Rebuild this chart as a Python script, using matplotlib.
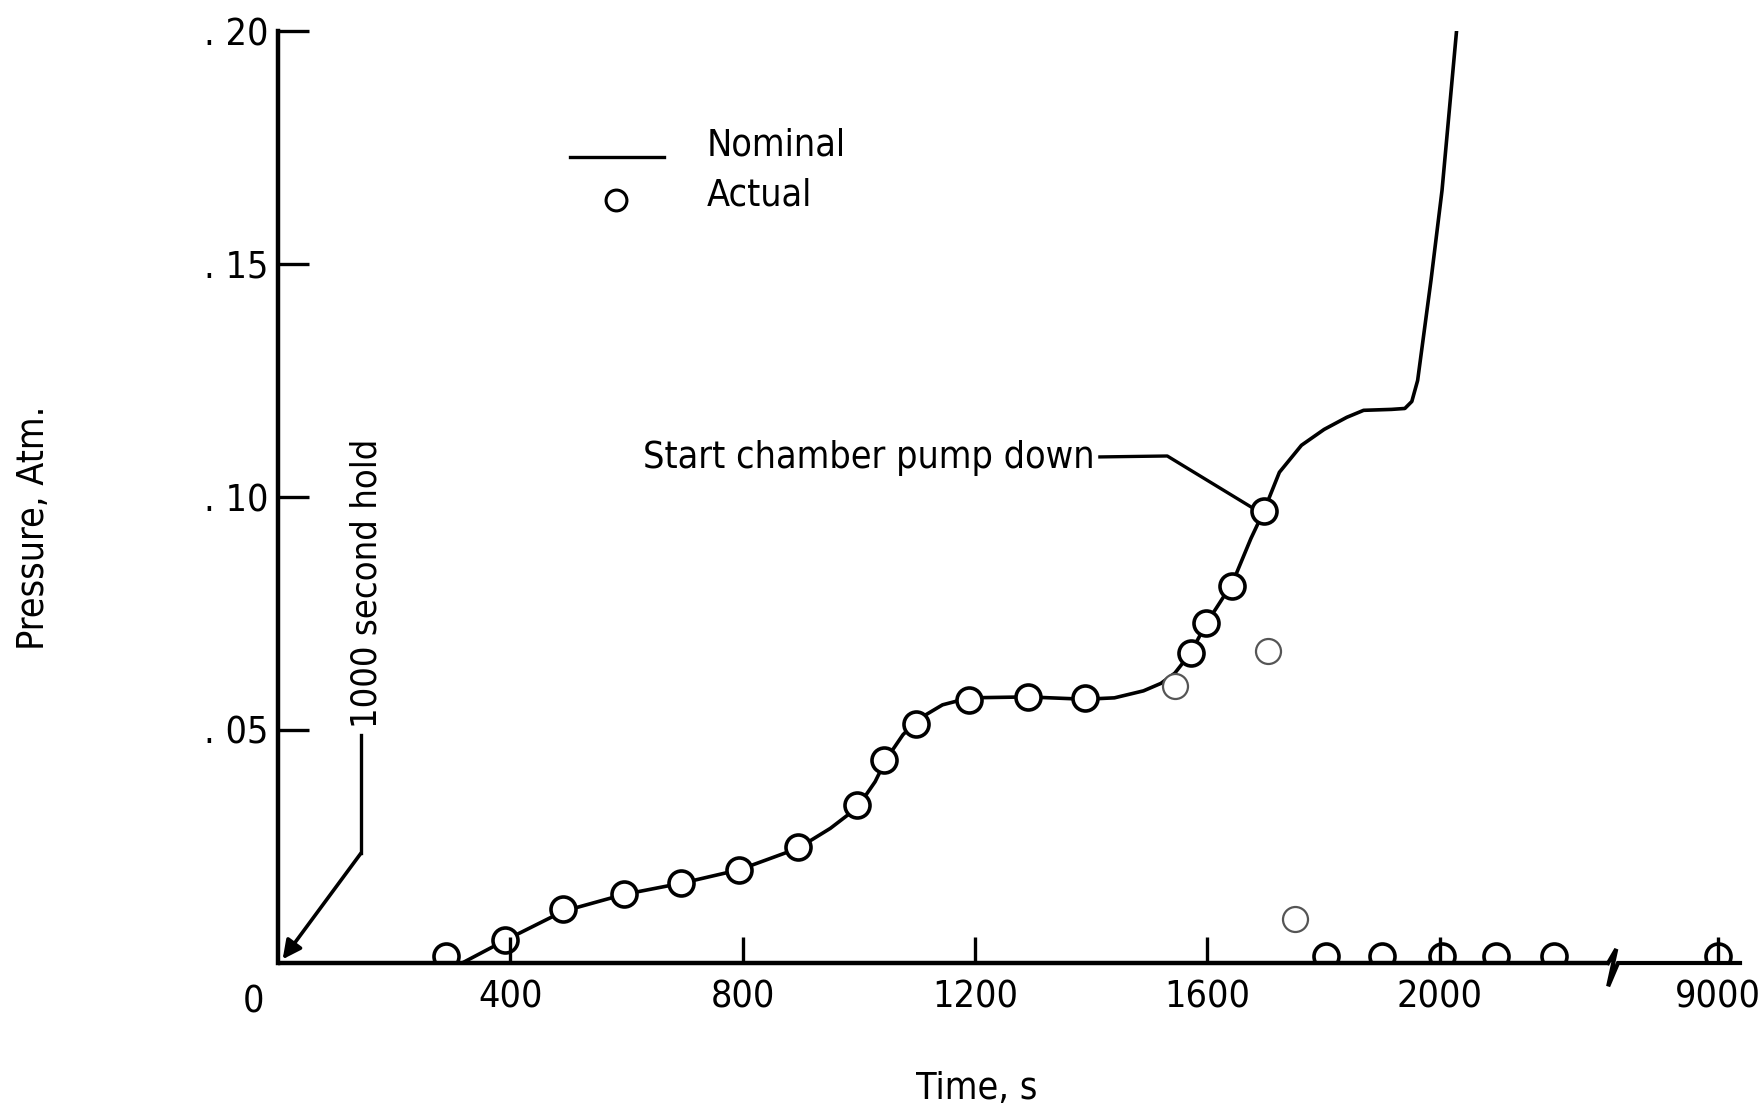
import numpy as np
import matplotlib
matplotlib.use("Agg")
import matplotlib.pyplot as plt
from matplotlib.lines import Line2D

plt.rcParams['font.family'] = ['DejaVu Sans']
plt.rcParams['font.stretch'] = 'condensed'

# ---- data ----
nominal_t = [317, 390, 491, 595, 694, 794, 895, 951, 997, 1028, 1047, 1076, 1105,
             1144, 1190, 1291, 1389, 1440, 1490, 1520, 1544, 1571, 1598, 1643, 1675,
             1697, 1724, 1762, 1801, 1840, 1869, 1917, 1940, 1952, 1962, 1985, 2004,
             2029]
nominal_p = [0.0, 0.0048, 0.0111, 0.0147, 0.0171, 0.0200, 0.0246, 0.0289, 0.0333,
             0.0389, 0.0437, 0.0490, 0.0525, 0.0554, 0.0569, 0.0571, 0.0566, 0.0569,
             0.0584, 0.0600, 0.0622, 0.0665, 0.0728, 0.0815, 0.0911, 0.0969, 0.1053,
             0.1111, 0.1145, 0.1171, 0.1186, 0.1188, 0.1190, 0.1205, 0.1250, 0.1465,
             0.1658, 0.2000]

actual_t = [290, 390, 491, 595, 694, 794, 895, 997, 1043, 1098, 1190, 1291, 1389,
            1571, 1598, 1643, 1697, 1805, 1901, 2004, 2097, 2197, 9000]
actual_p = [0.0015, 0.0050, 0.0116, 0.0149, 0.0171, 0.0200, 0.0250, 0.0340, 0.0436,
            0.0513, 0.0564, 0.0571, 0.0569, 0.0665, 0.0730, 0.0810, 0.0969,
            0.0015, 0.0015, 0.0015, 0.0015, 0.0015, 0.0015]
# faint / partially drawn points
faint_t = [1544, 1704, 1751]
faint_p = [0.0595, 0.0670, 0.0094]

xtick_vals = [400, 800, 1200, 1600, 2000, 9000]
xtick_labels = ['400', '800', '1200', '1600', '2000', '9000']
ytick_vals = [0.05, 0.10, 0.15, 0.20]
ytick_labels = ['. 05', '. 10', '. 15', '. 20']

# broken axis: 9000 s drawn just past the break
X9000_POS = 2479
BREAK_POS = 2302


def xmap(t):
    t = np.asarray(t, dtype=float)
    return np.where(t > 2400, X9000_POS, t)


fig = plt.figure(figsize=(17.6, 11.16), dpi=100)
ax = fig.add_axes([278 / 1760, 1 - 963 / 1116, (1740 - 278) / 1760, (963 - 31) / 1116])
ax.set_xlim(0, 2517)
ax.set_ylim(0, 0.2)

FS = 27

# nominal curve
ax.plot(xmap(nominal_t), nominal_p, color='black', lw=2.6, zorder=3,
        solid_capstyle='round', solid_joinstyle='round')
# actual points
ax.plot(xmap(actual_t), actual_p, linestyle='none', marker='o', ms=18,
        mfc='white', mec='black', mew=2.6, zorder=4)
ax.plot(xmap(faint_t), faint_p, linestyle='none', marker='o', ms=18,
        mfc='white', mec='#555555', mew=1.6, zorder=4)

# spines
for s in ['top', 'right', 'bottom']:
    ax.spines[s].set_visible(False)
ax.spines['left'].set_linewidth(3.2)

# bottom axis line with break
ax.plot([0, BREAK_POS - 12], [0, 0], color='black', lw=3.2, clip_on=False, zorder=5,
        solid_capstyle='butt')
ax.plot([BREAK_POS - 12, BREAK_POS + 2, BREAK_POS - 12, BREAK_POS + 5, 2517],
        [0, 0.003, -0.005, 0, 0], color='black', lw=3.0, clip_on=False, zorder=5,
        solid_joinstyle='miter')

ax.set_xticks(xmap(xtick_vals))
ax.set_xticklabels(xtick_labels)
ax.set_yticks(ytick_vals)
ax.set_yticklabels(ytick_labels)
ax.tick_params(axis='x', direction='in', length=19, width=2.4, pad=12, labelsize=FS)
ax.tick_params(axis='y', direction='in', length=22, width=2.4, pad=7, labelsize=FS)
ax.xaxis.set_zorder(6)

ax.text(-43, -0.0085, '0', ha='center', va='center', fontsize=FS, clip_on=False)

# axis labels
fig.text(977 / 1760, 1 - 1089 / 1116, 'Time, s', ha='center', va='center', fontsize=FS)
fig.text(34 / 1760, 1 - 528 / 1116, 'Pressure, Atm.', ha='center', va='center',
         rotation=90, fontsize=FS)

# legend (drawn by hand like the original)
fig.add_artist(Line2D([570 / 1760, 664 / 1760], [1 - 157 / 1116, 1 - 157 / 1116],
                      color='black', lw=2.4))
fig.add_artist(Line2D([616 / 1760], [1 - 200 / 1116], marker='o', ms=15,
                      mfc='white', mec='black', mew=2.2, linestyle='none'))
fig.text(707 / 1760, 1 - 146 / 1116, 'Nominal', ha='left', va='center', fontsize=FS)
fig.text(707 / 1760, 1 - 196 / 1116, 'Actual', ha='left', va='center', fontsize=FS)

# "1000 second hold" annotation
ax.text(153, 0.0505, '1000 second hold', rotation=90, ha='center', va='bottom',
        fontsize=26)
ax.plot([143, 143], [0.049, 0.0236], color='black', lw=2.4)
ax.annotate('', xy=(8, 0.0008), xytext=(143, 0.0236),
            arrowprops=dict(arrowstyle='-|>', color='black', lw=2.6,
                            mutation_scale=28, shrinkA=0, shrinkB=0))

# "Start chamber pump down" annotation
ax.text(628, 0.1084, 'Start chamber pump down', ha='left', va='center', fontsize=FS)
ax.plot([1415, 1531, 1676], [0.1086, 0.1088, 0.0978], color='black', lw=2.4, zorder=3)

fig.savefig('out.png', dpi=100, facecolor='white')
